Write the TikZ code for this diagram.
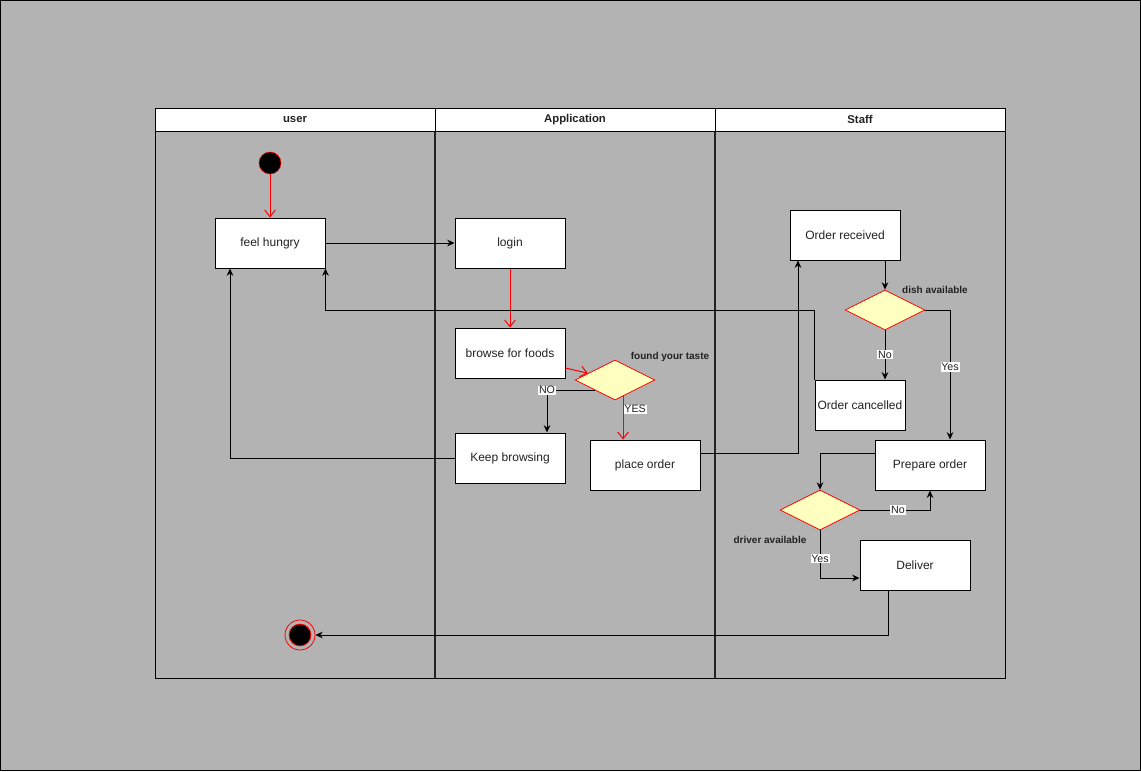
\documentclass[tikz,border=0pt]{standalone}
\usepackage{fontspec}
\setmainfont{Liberation Sans}
\usepackage{xcolor}
\usetikzlibrary{arrows.meta,positioning,calc,shapes.geometric}
\definecolor{canvas}{HTML}{B3B3B3}
\definecolor{decfill}{HTML}{FFFFC0}
\definecolor{ink}{HTML}{222222}

\begin{document}
\begin{tikzpicture}[
  x=0.75pt, y=-0.75pt,
  every node/.style={font=\fontsize{9}{11}\selectfont, text=ink},
  act/.style={draw, fill=white, minimum width=82.5pt, minimum height=37.5pt, inner sep=0pt, line width=0.75pt},
  dec/.style={diamond, draw=red, fill=decfill, minimum width=60pt, minimum height=30pt, inner sep=0pt, line width=0.6pt},
  lanehead/.style={draw, fill=white, minimum height=17.25pt, inner sep=0pt, font=\bfseries\fontsize{8.5}{10}\selectfont, line width=0.75pt},
  note/.style={font=\bfseries\fontsize{7.5}{9}\selectfont},
  lbl/.style={fill=white, inner sep=0.6pt, font=\fontsize{8}{9}\selectfont},
  arr/.style={-{Stealth[length=5.5pt,width=5pt]}, line width=0.75pt},
  rarr/.style={-{Straight Barb[length=5pt,width=8pt]}, draw=red, line width=0.75pt}
]
  % Canvas
  \useasboundingbox (0,0) rectangle (1141,771);
  \fill[canvas] (0,0) rectangle (1141,771);
  \draw[line width=0.75pt] (0.5,0.5) rectangle (1140.5,770.5);

  % Lanes
  \draw[line width=0.75pt] (155,131) rectangle (1005,678);
  \draw[line width=1.2pt, ink] (435,131) -- (435,678) (715,131) -- (715,678);
  \node[lanehead, minimum width=210pt] (userlane) at (295,119.5) {user};
  \node[lanehead, minimum width=210pt] (applane)  at (575,119.5) {Application};
  \node[lanehead, minimum width=217.5pt] (stafflane) at (860,119.5) {Staff};

  % Nodes
  \node[circle, draw=red, fill=black, minimum size=16.5pt, inner sep=0pt] (start) at (270,163) {};
  \node[act] (hungry) at (270,243) {feel hungry};
  \node[act] (login)  at (510,243) {login};
  \node[act] (browse) at (510,353) {browse for foods};
  \node[dec] (taste)  at (615,380) {};
  \node[note] at (670,357) {found your taste};
  \node[act] (keep)   at (510,458) {Keep browsing};
  \node[act] (place)  at (645,465) {place order};
  \node[act] (received) at (845,235) {Order received};
  \node[dec] (dish)   at (885,310) {};
  \node[note] at (935,290) {dish available};
  \node[act, minimum width=67.5pt] (cancelled) at (860,405) {Order cancelled};
  \node[act] (prepare) at (930,465) {Prepare order};
  \node[dec] (driver) at (820,510) {};
  \node[note] at (770,540) {driver available};
  \node[act] (deliver) at (915,565) {Deliver};
  \node[circle, draw=red, minimum size=22.5pt, inner sep=0pt, line width=0.6pt] (finish) at (300,635) {};
  \draw[red, fill=black, line width=0.6pt] (finish.center) circle[radius=8.2pt];

  % Arrows
  \draw[rarr] (start) -- (hungry);
  \draw[arr] (hungry) -- (login);
  \draw[rarr] (login) -- (browse);
  \draw[rarr] ([yshift=-11.25pt]browse.east) -- ($(taste.west)!0.33!(taste.north)$);
  \draw[arr] ($(taste.west)!0.5!(taste.south)$) -| ([xshift=27.75pt]keep.north)
    node[pos=0.5, lbl]{NO};
  \draw[rarr] ($(taste.south)!0.2!(taste.east)$) coordinate (yesout)
    -- (yesout |- place.north) node[pos=0.3, right, lbl]{YES};
  \draw[arr] (keep.west) -| ([xshift=-30pt]hungry.south);
  \draw[arr] ([yshift=9pt]place.east) -| ([xshift=-35.25pt]received.south);
  \draw[arr] ([xshift=30pt]received.south) -- (dish.north);
  \draw[arr] (dish.south) -- (dish.south |- cancelled.north) node[midway, lbl]{No};
  \draw[arr] (dish.east) -| ([xshift=15pt]prepare.north) node[pos=0.72, lbl]{Yes};
  \draw[arr] (cancelled.north west) -- (cancelled.north west |- dish.west) -| (hungry.south east);
  \draw[arr] ([yshift=9pt]prepare.west) -| (driver.north);
  \draw[arr] (driver.east) -| (prepare.south) node[pos=0.27, lbl]{No};
  \draw[arr] (driver.south) |- ([yshift=-9.75pt]deliver.west) node[pos=0.3, lbl]{Yes};
  \draw[arr] ([xshift=-20.25pt]deliver.south) |- (finish.east);
\end{tikzpicture}
\end{document}
